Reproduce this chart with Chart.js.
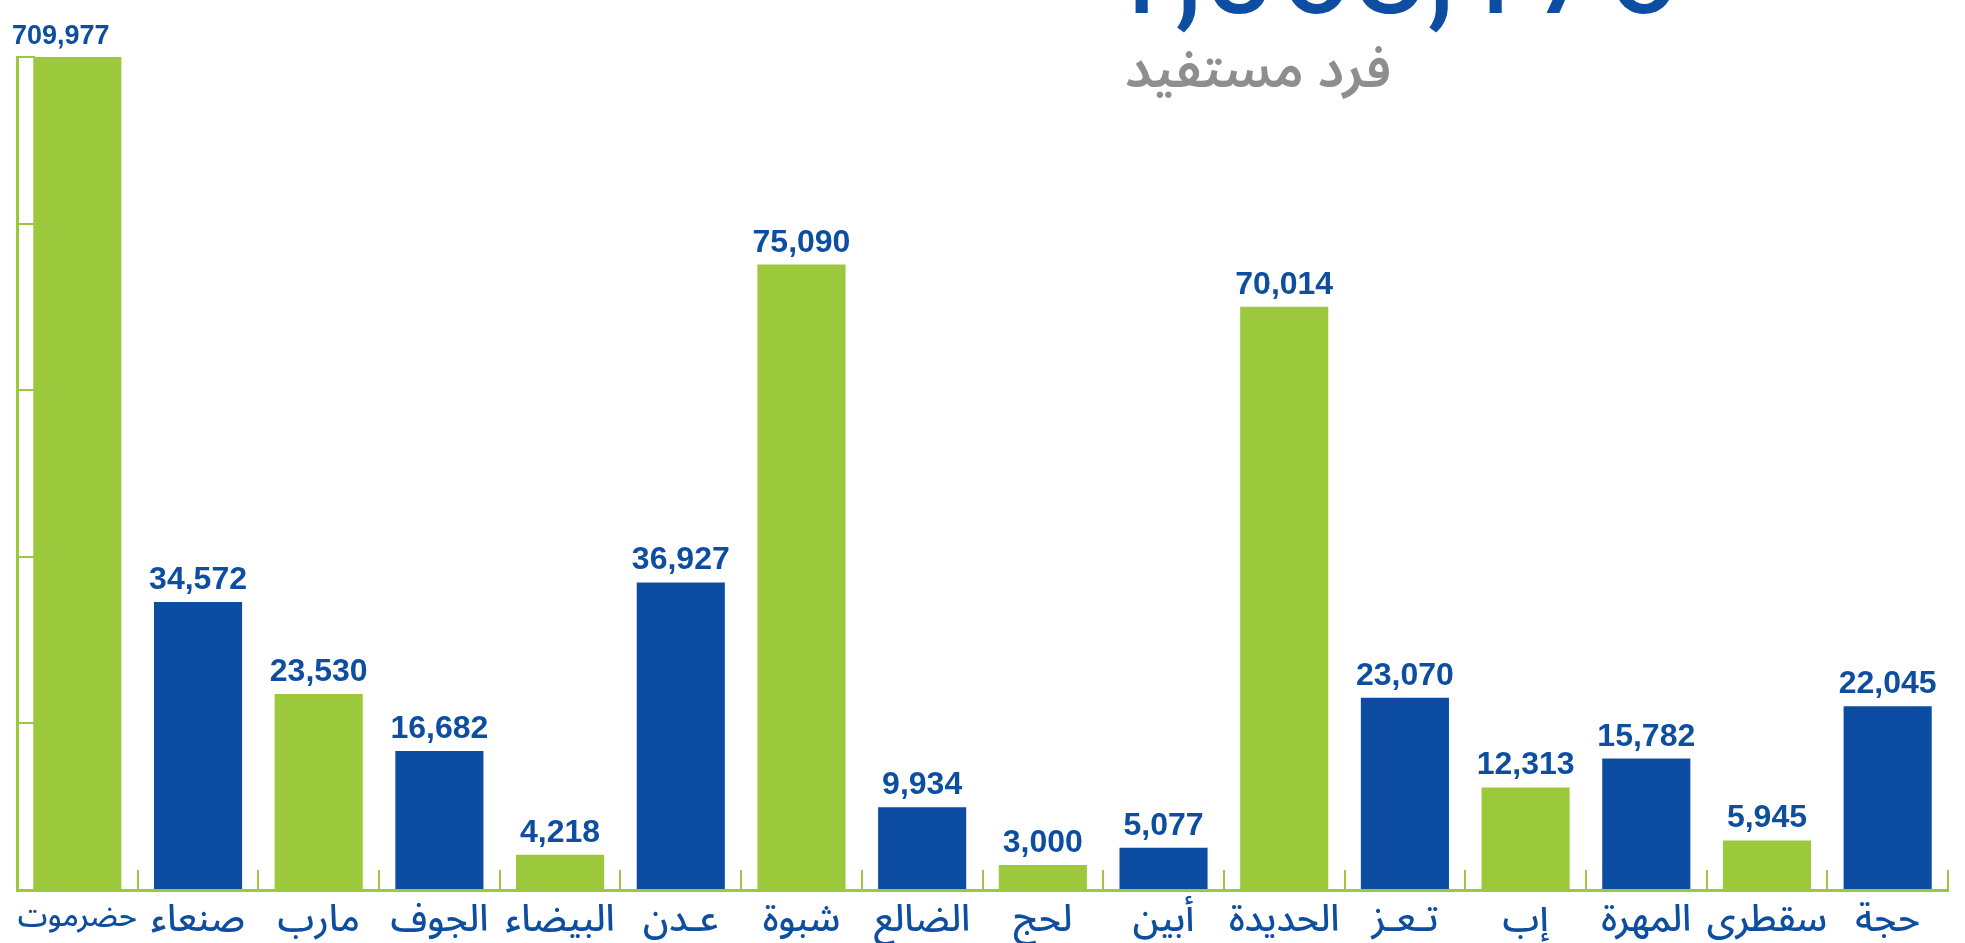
<!DOCTYPE html>
<html lang="ar">
<head>
<meta charset="utf-8">
<title>عدد الأفراد المستفيدين حسب المحافظة</title>
<script src="https://cdn.jsdelivr.net/npm/chart.js@4.4.1/dist/chart.umd.min.js"></script>
<style>
  html, body { margin: 0; padding: 0; background: #fff; overflow: hidden; }
  #wrap { position: relative; width: 1965px; height: 943px; overflow: hidden; }
  #total {
    position: absolute; left: 1100px; top: -99px;
    font: 400 134px Roboto, "Open Sans", sans-serif; line-height: 134px;
    color: #0d4ea3; white-space: nowrap;
  }
  #unit {
    position: absolute; right: 574px; top: 40px;
    font: 600 53px "Noto Sans Arabic", "DejaVu Sans", sans-serif; line-height: 60px;
    color: #8e8e8e; white-space: nowrap; direction: rtl;
  }
  canvas { position: absolute; left: 0; top: 0; }
</style>
</head>
<body>
<div id="wrap">
  <canvas id="chart" width="1965" height="943"></canvas>
  <div id="total"></div>
  <div id="unit"></div>
</div>
<script>
// --- البيانات ---
const regions = ['حضرموت', 'صنعاء', 'مارب', 'الجوف', 'البيضاء', 'عـدن', 'شبوة', 'الضالع',
                 'لحج', 'أبين', 'الحديدة', 'تـعـز', 'إب', 'المهرة', 'سقطرى', 'حجة'];
const beneficiaries = [709977, 34572, 23530, 16682, 4218, 36927, 75090, 9934,
                       3000, 5077, 70014, 23070, 12313, 15782, 5945, 22045];
const yTicks = [0, 20000, 40000, 60000, 80000, 100000];
const totalText = '1,068,176';
const unitText = 'فرد مستفيد';

// --- الألوان ---
const GREEN = '#9bc93b';
const BLUE = '#0c4ca2';
const TEXT_BLUE = '#0d4ea0';
const ARABIC = '"Noto Sans Arabic", "DejaVu Sans", sans-serif';

document.getElementById('total').textContent = totalText;
document.getElementById('unit').textContent = unitText;

// أرقام فوق الأعمدة (العمود المقطوع أعلى المحور يأخذ خطاً أصغر)
const valueLabels = {
  id: 'valueLabels',
  afterDatasetsDraw(chart) {
    const { ctx, chartArea } = chart;
    const meta = chart.getDatasetMeta(0);
    ctx.save();
    ctx.fillStyle = TEXT_BLUE;
    ctx.textBaseline = 'alphabetic';
    meta.data.forEach((bar, i) => {
      const clipped = bar.y < chartArea.top;
      const top = Math.max(bar.y, chartArea.top);
      ctx.font = 'bold ' + (clipped ? 27 : 32) + 'px "Liberation Sans", Arial, sans-serif';
      ctx.textAlign = clipped ? 'left' : 'center';
      const x = clipped ? chartArea.left - 5 : bar.x;
      ctx.fillText(beneficiaries[i].toLocaleString('en-US'), x, top - 13);
    });
    ctx.restore();
  }
};

new Chart(document.getElementById('chart'), {
  type: 'bar',
  data: {
    labels: regions,
    datasets: [{
      data: beneficiaries,
      backgroundColor: regions.map((_, i) => i % 2 ? BLUE : GREEN),
      borderWidth: 0,
      barPercentage: 0.73,
      categoryPercentage: 1
    }]
  },
  options: {
    responsive: false,
    animation: false,
    layout: { padding: { left: 17, right: 17, top: 57, bottom: 0 } },
    plugins: { legend: { display: false }, tooltip: { enabled: false } },
    scales: {
      x: {
        grid: { offset: true, drawOnChartArea: false, tickLength: -20, color: GREEN, lineWidth: 2 },
        border: { color: GREEN, width: 3 },
        ticks: {
          autoSkip: false, maxRotation: 0, padding: 33, color: TEXT_BLUE,
          font: (c) => ({ family: ARABIC, size: c.index === 0 ? 30 : 37, weight: 500 })
        },
        afterFit: (s) => { s.height = 53; s.paddingLeft = 0; s.paddingRight = 0; }
      },
      y: {
        min: yTicks[0],
        max: yTicks[yTicks.length - 1],
        ticks: { display: false, stepSize: yTicks[1] - yTicks[0] },
        grid: { drawOnChartArea: false, tickLength: -18, color: GREEN, lineWidth: 2 },
        border: { color: GREEN, width: 3 },
        afterFit: (s) => { s.width = 0; }
      }
    }
  },
  plugins: [valueLabels]
});
</script>
</body>
</html>
